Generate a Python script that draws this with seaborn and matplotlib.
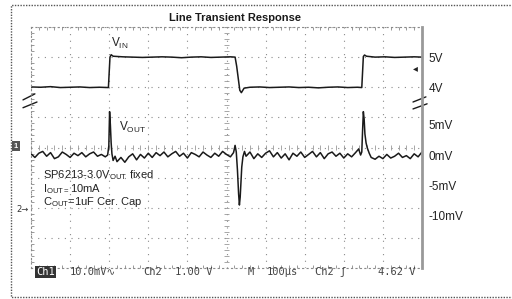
import numpy as np
import pandas as pd
import matplotlib
matplotlib.use("Agg")
import matplotlib.pyplot as plt
from matplotlib.lines import Line2D
import seaborn as sns

# ---- data (time in us, 100 us/div) ----
vin_t = [0, 25, 50, 75, 100, 125, 150, 175, 198, 200, 202, 205, 210, 235, 260, 285,
         310, 335, 360, 385, 410, 435, 460, 485, 510, 522, 526, 530, 534, 538, 545,
         560, 585, 610, 635, 660, 685, 710, 735, 760, 785, 810, 835, 846, 848, 850,
         853, 858, 880, 905, 930, 955, 980, 1000]
vin_v = [4.01, 4.00, 4.02, 3.99, 4.00, 4.01, 3.99, 4.00, 3.99, 4.50, 5.00, 5.08, 5.03,
         5.01, 5.00, 4.99, 5.00, 5.01, 5.00, 4.98, 5.00, 5.01, 4.99, 5.00, 5.01, 5.00,
         4.70, 4.30, 3.90, 3.82, 3.97, 4.00, 4.01, 3.99, 4.00, 4.01, 3.99, 4.00, 3.98,
         4.00, 4.01, 3.99, 4.00, 3.99, 4.50, 5.02, 5.07, 5.03, 5.00, 5.01, 4.99, 5.00,
         5.01, 5.00]

vout_t = [0, 10, 20, 30, 40, 50, 60, 70, 80, 90, 100, 110, 120, 130, 140, 150, 160,
          170, 180, 190, 196, 199, 201, 203, 205, 207, 210, 215, 220, 230, 240, 250,
          260, 270, 280, 290, 300, 310, 320, 330, 340, 350, 360, 370, 380, 390, 400,
          410, 420, 430, 440, 450, 460, 470, 480, 490, 500, 510, 518, 522, 525, 528,
          531, 533, 535, 537, 539, 542, 546, 550, 560, 570, 580, 590, 600, 610, 620,
          630, 640, 650, 660, 670, 680, 690, 700, 710, 720, 730, 740, 750, 760, 770,
          780, 790, 800, 810, 820, 830, 838, 843, 846, 848, 850, 852, 854, 857, 860,
          865, 870, 880, 890, 900, 910, 920, 930, 940, 950, 960, 970, 980, 990, 1000]
vout_mv = [0.2, -0.4, 0.3, 0.6, -0.2, 0.4, -0.6, -0.3, 0.5, 0.1, -0.4, 0.3, -0.1, 0.4,
           -0.3, 0.2, 0.5, -0.2, 0.1, -0.3, 0.0, 1.5, 7.2, 5.0, 2.0, 0.2, -0.9, -0.2,
           -1.1, -0.4, -1.2, -0.3, 0.2, -0.8, 0.1, -0.5, 0.3, -0.4, 0.4, -0.1, 0.5,
           -0.3, 0.2, 0.6, -0.2, 0.3, -0.5, 0.4, 0.1, -0.3, 0.5, 0.0, -0.4, 0.3, -0.2,
           0.6, 0.1, -0.3, 0.4, 1.6, 0.5, -2.5, -6.5, -8.3, -7.0, -4.5, -2.0, -0.3, 0.6,
           -0.2, 0.5, -0.6, 0.2, -0.4, 0.3, 0.7, -0.3, 0.4, -0.5, 0.2, -0.8, 0.3, -0.2,
           0.5, -0.4, 0.1, 0.6, -0.3, 0.4, -0.6, 0.2, 0.5, -0.2, 0.3, -0.5, 0.2, -0.3,
           0.4, 1.0, 0.0, 0.5, 4.0, 7.2, 6.0, 3.5, 2.0, 1.2, 0.3, -0.4, -0.7, -0.2,
           -0.6, 0.1, -0.5, -0.2, 0.3, -0.4, -0.1, -0.6, 0.2, -0.3, 0.5]

right_values = ["5V", "4V", "5mV", "0mV", "-5mV", "-10mV"]
right_levels = [5.0, 4.0, 5.0, 0.0, -5.0, -10.0]   # V for first two, mV for the rest

status_texts = ["10.0mV\u223f", "Ch2", "1.00 V", "M", "100\u00b5s", "Ch2 \u0283", "4.62 V"]
status_x = [70, 143, 175, 248, 267, 315, 378]

# scope scaling: 100 us/div, VIN 1 V/div offset 2 div, VOUT 5 mV/div with 0 at 3.75 div
US_PER_DIV = 100.0
VIN_OFFSET = 2.0
VOUT_ZERO = 3.75
MV_PER_DIV = 5.0

vin_df = pd.DataFrame({"t": np.array(vin_t) / US_PER_DIV,
                       "y": np.array(vin_v) + VIN_OFFSET})
vout_df = pd.DataFrame({"t": np.array(vout_t) / US_PER_DIV,
                        "y": VOUT_ZERO + np.array(vout_mv) / MV_PER_DIV})

sns.set_style("white")
plt.rcParams["font.family"] = ["Liberation Sans", "DejaVu Sans"]
plt.rcParams["mathtext.fontset"] = "custom"
plt.rcParams["mathtext.rm"] = "Liberation Sans"
plt.rcParams["mathtext.it"] = "Liberation Sans"

W, H = 512, 299
fig = plt.figure(figsize=(W / 100, H / 100), dpi=100)
ax = fig.add_axes([31 / W, 31 / H, 391 / W, 241 / H])


def px(x, y):
    return x / W, 1 - y / H


ax.set_xlim(0, 10)
ax.set_ylim(0, 8)
ax.set_xticks(np.arange(0, 11))
ax.set_yticks(np.arange(0, 9))
ax.set_xticks(np.arange(0, 10.01, 0.2), minor=True)
ax.set_yticks(np.arange(0, 8.01, 0.2), minor=True)
ax.tick_params(which="major", length=0, labelbottom=False, labelleft=False)
ax.tick_params(which="minor", direction="in", length=2, width=0.6, color="#888888",
               top=True, bottom=True, left=True, right=False)
ax.grid(True, which="major", color="#8a8a8a", linestyle=(0, (1, 5)), linewidth=0.8)
for side in ["top", "bottom", "left"]:
    ax.spines[side].set_linestyle((0, (1, 3)))
    ax.spines[side].set_color("#8a8a8a")
    ax.spines[side].set_linewidth(0.8)
ax.spines["right"].set_color("#999999")
ax.spines["right"].set_linewidth(2)

# graticule centre lines with fine ticks
ax.vlines(np.arange(0, 10.01, 0.2), 3.93, 4.07, color="#999999", linewidth=0.6)
ax.hlines(np.arange(0, 8.01, 0.2), 4.93, 5.07, color="#999999", linewidth=0.6)

sns.lineplot(data=vin_df, x="t", y="y", ax=ax, color="#1a1a1a", linewidth=1.1,
             estimator=None, sort=False)
sns.lineplot(data=vout_df, x="t", y="y", ax=ax, color="#1a1a1a", linewidth=1.1,
             estimator=None, sort=False)
ax.set_xlabel("")
ax.set_ylabel("")

# right-hand level labels
ax2 = ax.twinx()
ax2.set_ylim(0, 8)
pos = [v + VIN_OFFSET for v in right_levels[:2]] + \
      [VOUT_ZERO + v / MV_PER_DIV for v in right_levels[2:]]
ax2.set_yticks(pos)
ax2.set_yticklabels(right_values, fontsize=8.5, color="#222222")
ax2.tick_params(length=0, pad=5)
for s in ax2.spines.values():
    s.set_visible(False)
ax2.grid(False)

# break marks
for xs, ys in [((-0.205, 0.10), (5.58, 5.78)), ((-0.205, 0.153), (5.32, 5.51)),
               ((9.77, 10.10), (5.51, 5.68)), ((9.77, 10.13), (5.28, 5.45))]:
    ax.plot(xs, ys, color="#1a1a1a", linewidth=1.0, clip_on=False)

# text annotations
fig.text(*px(235, 18), "Line Transient Response", ha="center", va="center",
         fontsize=8, fontweight="bold", color="#1a1a1a")
fig.text(*px(111, 43), r"V$_\mathrm{IN}$", ha="left", va="center", fontsize=8.5,
         color="#222222")
fig.text(*px(119, 127), r"V$_\mathrm{OUT}$", ha="left", va="center", fontsize=8.5,
         color="#222222")
fig.text(*px(43, 175), r"SP6213-3.0V$_\mathrm{OUT}$ fixed", ha="left", va="center",
         fontsize=8, color="#222222")
fig.text(*px(43, 189), r"I$_\mathrm{OUT=}$10mA", ha="left", va="center",
         fontsize=8, color="#222222")
fig.text(*px(43, 202), r"C$_\mathrm{OUT}$=1uF Cer. Cap", ha="left", va="center",
         fontsize=8, color="#222222")
fig.text(*px(16, 209), "2\u2192", ha="left", va="center", fontsize=6, color="#333333",
         family=["DejaVu Sans"])
fig.text(*px(14, 146), "1", ha="left", va="center", fontsize=5.5, color="white",
         fontweight="bold", bbox=dict(boxstyle="square,pad=0.25", fc="#555555", ec="none"))
fig.text(*px(413, 68), "\u25c2", ha="left", va="center", fontsize=7, color="#222222",
         family=["DejaVu Sans"])

# scope status line
fig.text(*px(36, 272), "Ch1", ha="left", va="center", fontsize=7.5, color="white",
         family=["DejaVu Sans Mono"],
         bbox=dict(boxstyle="square,pad=0.12", fc="#333333", ec="none"))
for label, x in zip(status_texts, status_x):
    fig.text(*px(x, 272), label, ha="left", va="center", fontsize=7.5, color="#444444",
             family=["DejaVu Sans Mono", "DejaVu Sans"])

# dotted outer frame
frame_x = [515 / W, 11 / W, 11 / W, 515 / W]
frame_y = [1 - 5 / H, 1 - 5 / H, 1 - 297 / H, 1 - 297 / H]
fig.add_artist(Line2D(frame_x, frame_y, transform=fig.transFigure, color="#555555",
                      linewidth=1.0, linestyle=(0, (1, 1))))

fig.savefig("out.png", dpi=100)
